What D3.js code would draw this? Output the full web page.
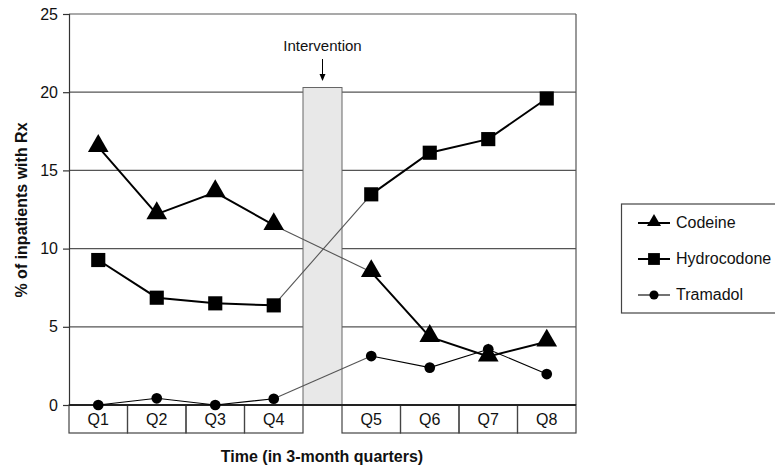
<!DOCTYPE html>
<html><head><meta charset="utf-8">
<script src="https://cdn.jsdelivr.net/npm/d3@7"></script>
<style>body{margin:0;background:#fff}svg{display:block}text{font-family:"Liberation Sans",Arial,sans-serif}</style>
</head><body><svg id="c" width="775" height="470"></svg>
<script>
const quarters = ["Q1","Q2","Q3","Q4","Q5","Q6","Q7","Q8"];
const codeine = [16.5, 12.2, 13.6, 11.5, 8.5, 4.35, 3.1, 4.05];
const hydrocodone = [9.27, 6.86, 6.5, 6.37, 13.47, 16.13, 17.0, 19.6];
const tramadol = [0, 0.43, 0, 0.4, 3.13, 2.39, 3.56, 1.98];
const yTicks = [0, 5, 10, 15, 20, 25];
const interventionValue = 20.3;
const seriesNames = ["Codeine", "Hydrocodone", "Tramadol"];

const svg = d3.select("#c");
const L = 69, R = 576, T = 14, B = 405, GAP = 39;
const y = d3.scaleLinear().domain([0, 25]).range([B, T]);
const band = d3.scaleBand().domain(quarters).range([L, R - GAP]).paddingInner(0).paddingOuter(0);
const bw = band.bandwidth();
const left = q => band(q) + (quarters.indexOf(q) >= 4 ? GAP : 0);
const cx = q => left(q) + bw / 2;

// gridlines
svg.append("g").selectAll("line").data(yTicks.filter(d => d > 0)).join("line")
  .attr("x1", L).attr("x2", R).attr("y1", d => y(d)).attr("y2", d => y(d))
  .attr("stroke", "#555").attr("stroke-width", 1.2);
svg.append("line").attr("x1", R).attr("x2", R).attr("y1", T).attr("y2", B).attr("stroke", "#555").attr("stroke-width", 1.2);

// intervention bar
const gx0 = band("Q4") + bw, gx1 = gx0 + GAP, gm = (gx0 + gx1) / 2;
svg.append("rect").attr("x", gx0).attr("y", y(interventionValue)).attr("width", GAP).attr("height", B - y(interventionValue))
  .attr("fill", "#e8e8e8").attr("stroke", "#666").attr("stroke-width", 1);
svg.append("text").attr("x", gm).attr("y", 51).attr("text-anchor", "middle").attr("font-size", 15).attr("fill", "#111").text("Intervention");
svg.append("line").attr("x1", gm).attr("x2", gm).attr("y1", 59).attr("y2", 77).attr("stroke", "#000").attr("stroke-width", 1);
svg.append("path").attr("d", `M${gm-3},74 L${gm+3},74 L${gm},81 Z`).attr("fill", "#000");

// y axis
const yAxis = d3.axisLeft(y).tickValues(yTicks).tickSize(6).tickPadding(5);
const ga = svg.append("g").attr("transform", `translate(${L},0)`).call(yAxis);
ga.select(".domain").attr("stroke", "#333").attr("stroke-width", 1.2);
ga.selectAll(".tick line").attr("stroke", "#333").attr("stroke-width", 1.2);
ga.selectAll(".tick text").attr("font-size", 16).attr("fill", "#111").style("font-family", "Liberation Sans, Arial, sans-serif");

// x boxes
const boxes = svg.append("g");
quarters.forEach(q => {
  boxes.append("rect").attr("x", left(q)).attr("y", B).attr("width", bw).attr("height", 28)
    .attr("fill", "none").attr("stroke", "#444").attr("stroke-width", 1.2);
  boxes.append("text").attr("x", cx(q)).attr("y", B + 20).attr("text-anchor", "middle").attr("font-size", 16).attr("fill", "#111").text(q);
});
svg.append("line").attr("x1", L).attr("x2", R).attr("y1", B).attr("y2", B).attr("stroke", "#222").attr("stroke-width", 2);

// lines
function drawSeries(vals, w) {
  const pts = quarters.map((q, i) => [cx(q), y(vals[i])]);
  const line = d3.line();
  svg.append("path").attr("d", line(pts.slice(0, 4))).attr("fill", "none").attr("stroke", "#000").attr("stroke-width", w);
  svg.append("path").attr("d", line(pts.slice(4))).attr("fill", "none").attr("stroke", "#000").attr("stroke-width", w);
  svg.append("path").attr("d", line(pts.slice(3, 5))).attr("fill", "none").attr("stroke", "#555").attr("stroke-width", 1.1);
  return pts;
}
const tri = d3.symbol().type(d3.symbolTriangle).size(185);
const sq = d3.symbol().type(d3.symbolSquare).size(200);
const circ = d3.symbol().type(d3.symbolCircle).size(90);

const pT = drawSeries(tramadol, 1.1);
const pH = drawSeries(hydrocodone, 2);
const pC = drawSeries(codeine, 2);
svg.append("g").selectAll("path").data(pT).join("path").attr("transform", d => `translate(${d})`).attr("d", circ).attr("fill", "#000");
svg.append("g").selectAll("path").data(pH).join("path").attr("transform", d => `translate(${d})`).attr("d", sq).attr("fill", "#000");
svg.append("g").selectAll("path").data(pC).join("path").attr("transform", d => `translate(${d[0]},${d[1]-1})`).attr("d", tri).attr("fill", "#000");

// axis titles
svg.append("text").attr("transform", "translate(27,210) rotate(-90)").attr("text-anchor", "middle")
  .attr("font-size", 16).attr("font-weight", "bold").attr("fill", "#111").text("% of inpatients with Rx");
svg.append("text").attr("x", 322).attr("y", 462).attr("text-anchor", "middle")
  .attr("font-size", 16).attr("font-weight", "bold").attr("fill", "#111").text("Time (in 3-month quarters)");

// legend
const lg = svg.append("g");
lg.append("rect").attr("x", 621.5).attr("y", 204).attr("width", 160).attr("height", 109).attr("fill", "#fff").attr("stroke", "#444").attr("stroke-width", 1.2);
const lws = [2, 2, 1.1];
seriesNames.forEach((n, i) => {
  const yy = 223 + i * 36;
  lg.append("line").attr("x1", 638).attr("x2", 670).attr("y1", yy).attr("y2", yy).attr("stroke", "#000").attr("stroke-width", lws[i]);
  lg.append("path").attr("transform", `translate(654,${yy - (i===0?1:0)})`).attr("d", d3.symbol().type([d3.symbolTriangle, d3.symbolSquare, d3.symbolCircle][i]).size([85, 140, 65][i])).attr("fill", "#000");
  lg.append("text").attr("x", 676).attr("y", yy + 5).attr("font-size", 16).attr("fill", "#111").text(n);
});
</script></body></html>
